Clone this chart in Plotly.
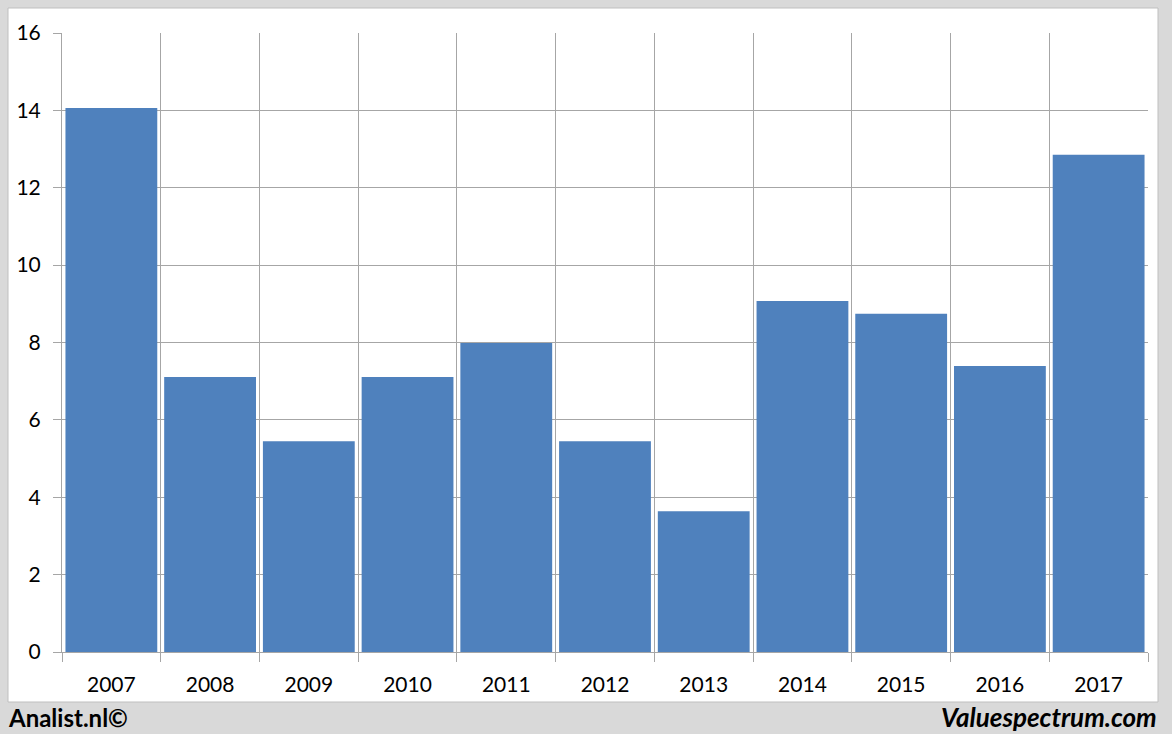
import plotly.graph_objects as go

# ── Data ───────────────────────────────────────────────────────────────────
years = ["2007", "2008", "2009", "2010", "2011", "2012",
         "2013", "2014", "2015", "2016", "2017"]
values = [14.06, 7.11, 5.45, 7.11, 7.99, 5.45, 3.64, 9.07, 8.74, 7.39, 12.85]
y_ticks = [0, 2, 4, 6, 8, 10, 12, 14, 16]

BAR_BLUE = "#4f81bd"
GRID = "#a6a6a6"
FRAME = "#d9d9d9"
FONT = "Lato, Open Sans, sans-serif"

fig = go.Figure(
    go.Bar(
        x=years,
        y=values,
        marker=dict(color=BAR_BLUE, line=dict(width=0)),
        showlegend=False,
    )
)

fig.update_layout(
    width=1172,
    height=734,
    paper_bgcolor=FRAME,
    plot_bgcolor="white",
    margin=dict(l=62, r=24, t=33, b=82),
    bargap=0.07,
    font=dict(family=FONT, size=21, color="#000000"),
    shapes=[
        # white panel inside the grey frame
        dict(type="rect", xref="paper", yref="paper", layer="below",
             x0=-54 / 1086, x1=1096 / 1086, y0=-50 / 619, y1=644 / 619,
             fillcolor="white", line=dict(color="#bfbfbf", width=1)),
    ],
    annotations=[
        dict(text="<b>Analist.nl©</b>", xref="paper", yref="paper",
             x=-56 / 1086, y=-65 / 619, xanchor="left", yanchor="middle",
             showarrow=False, font=dict(family=FONT, size=24, color="#000")),
        dict(text="<b><i>Valuespectrum.com</i></b>", xref="paper", yref="paper",
             x=1097 / 1086, y=-65 / 619, xanchor="right", yanchor="middle",
             showarrow=False, font=dict(family=FONT, size=26, color="#000")),
    ],
)

fig.update_xaxes(
    type="category",
    tickson="boundaries",
    showgrid=True,
    gridcolor=GRID,
    gridwidth=1,
    ticks="outside",
    ticklen=9,
    tickcolor=GRID,
    showline=True,
    linecolor=GRID,
    ticklabelstandoff=14,
)
fig.update_yaxes(
    range=[0, 16],
    tickvals=y_ticks,
    showgrid=True,
    gridcolor=GRID,
    gridwidth=1,
    ticks="outside",
    ticklen=8,
    tickcolor=GRID,
    showline=True,
    linecolor=GRID,
    zeroline=False,
    ticklabelstandoff=8,
)

# page body has a default 8px margin; drop it so the figure fills the window
fig.write_html(
    "out.html",
    config={"displayModeBar": False},
    post_script="document.body.style.margin='0';",
)
